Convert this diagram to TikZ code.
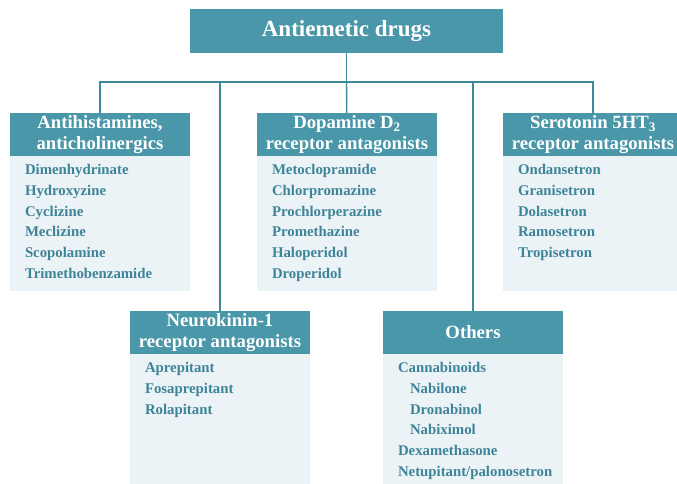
\documentclass[tikz,border=0pt]{standalone}
\usepackage{fontspec}
\setmainfont{Liberation Serif}
\usetikzlibrary{positioning}
\definecolor{hdteal}{HTML}{4A97A9}
\definecolor{listbg}{HTML}{EBF3F6}
\definecolor{listteal}{HTML}{3E8498}
\definecolor{linkteal}{HTML}{3D889B}
\tikzstyle{title} = [rectangle, minimum width=313pt, minimum height=44pt, inner sep=0pt,
text centered, fill=hdteal, text=white, font=\bfseries\fontsize{23}{27}\selectfont]
\tikzstyle{header} = [rectangle, minimum width=180pt, minimum height=43pt, inner sep=0pt,
align=center, fill=hdteal, text=white, font=\bfseries\fontsize{18.7}{21}\selectfont]
\tikzstyle{listbox} = [rectangle, minimum width=180pt, inner sep=0pt, fill=listbg]
\tikzstyle{druglist} = [anchor=north west, inner sep=0pt, align=left, text=listteal,
font=\bfseries\fontsize{14.8}{20.7}\selectfont]
\tikzstyle{link} = [line width=1.4pt, draw=linkteal]

\begin{document}
\begin{tikzpicture}[x=1pt, y=-1pt]
\useasboundingbox[fill=white] (0,0) rectangle (677,484);

% ------------------------- nodes -------------------------
% ----- node: top
\node(top)[title] at (346.5,31) {Antiemetic drugs};
% ----- node: antihistamines
\node(anti)[header] at (100,134.5) {Antihistamines,\\anticholinergics};
\node(antibox)[listbox, below=0pt of anti, minimum height=135pt] {};
\node(antilist)[druglist] at ([xshift=15, yshift=-8]antibox.north west) {Dimenhydrinate\\Hydroxyzine\\Cyclizine\\Meclizine\\Scopolamine\\Trimethobenzamide};
% ----- node: dopamine
\node(dopa)[header] at (347,134.5) {Dopamine D\textsubscript{2}\\receptor antagonists};
\node(dopabox)[listbox, below=0pt of dopa, minimum height=135pt] {};
\node(dopalist)[druglist] at ([xshift=15, yshift=-8]dopabox.north west) {Metoclopramide\\Chlorpromazine\\Prochlorperazine\\Promethazine\\Haloperidol\\Droperidol};
% ----- node: serotonin
\node(sero)[header] at (593,134.5) {Serotonin 5HT\textsubscript{3}\\receptor antagonists};
\node(serobox)[listbox, below=0pt of sero, minimum height=135pt] {};
\node(serolist)[druglist] at ([xshift=15, yshift=-8]serobox.north west) {Ondansetron\\Granisetron\\Dolasetron\\Ramosetron\\Tropisetron};
% ----- node: neurokinin
\node(neuro)[header] at (220,332.5) {Neurokinin-1\\receptor antagonists};
\node(neurobox)[listbox, below=0pt of neuro, minimum height=130pt] {};
\node(neurolist)[druglist] at ([xshift=15, yshift=-8]neurobox.north west) {Aprepitant\\Fosaprepitant\\Rolapitant};
% ----- node: others
\node(other)[header] at (473,332.5) {Others};
\node(otherbox)[listbox, below=0pt of other, minimum height=130pt] {};
\node(otherlist)[druglist] at ([xshift=15, yshift=-8]otherbox.north west) {Cannabinoids\\\hspace*{12pt}Nabilone\\\hspace*{12pt}Dronabinol\\\hspace*{12pt}Nabiximol\\Dexamethasone\\Netupitant/palonosetron};

% ------------------------- connections -------------------------
\coordinate(bus) at (346.5,82);
\draw[link](top)--(bus);
\draw[link](bus)-|(anti);
\draw[link](bus)-|(neuro);
\draw[link](bus)--(dopa);
\draw[link](bus)-|(other);
\draw[link](bus)-|(sero);
\end{tikzpicture}
\end{document}
